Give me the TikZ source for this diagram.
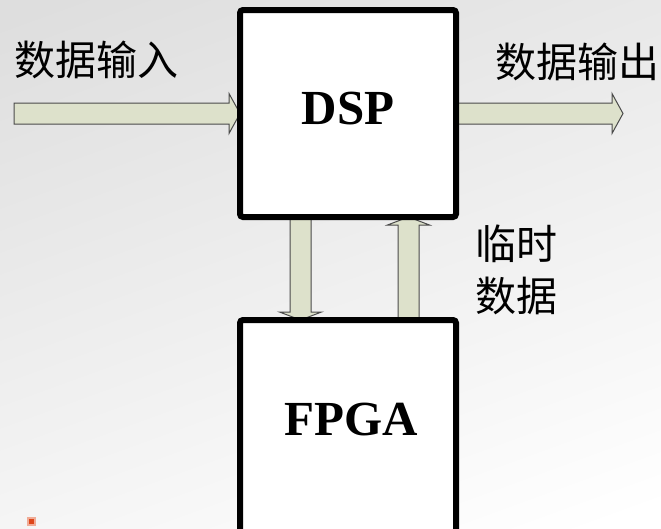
\documentclass[tikz,border=0pt]{standalone}
\usepackage{fontspec}
\setmainfont{Liberation Serif}
\newfontfamily\cjk{Noto Sans CJK SC}
\usetikzlibrary{calc}
\definecolor{arrowfill}{HTML}{DDE1CB}
\definecolor{arrowline}{HTML}{4A4A4A}
\definecolor{bgtop}{HTML}{DEDEDE}
\definecolor{dotred}{RGB}{222,70,25}
\tikzset{
  blockbox/.style={draw=black, fill=white, line width=6pt, rounded corners=3pt,
    inner sep=0pt, outer sep=0pt},
  boxtext/.style={font=\fontsize{49}{55}\selectfont\bfseries, inner sep=0pt},
  cn/.style={font=\cjk\fontsize{41}{48}\selectfont, inner sep=0pt},
  barrow/.style={draw=arrowline, fill=arrowfill, line width=1pt, line join=miter},
}
% horizontal block arrow: #1 start, #2 tip, #3 head length
\newcommand\hblockarrow[3]{%
  \path[barrow] let \p1=(#1), \p2=(#2) in
    (\x1,\y1+10.5pt) -- (\x2-#3,\y1+10.5pt) -- (\x2-#3,\y1+20pt) -- (\x2,\y1)
    -- (\x2-#3,\y1-20pt) -- (\x2-#3,\y1-10.5pt) -- (\x1,\y1-10.5pt) -- cycle;}
% vertical block arrow: #1 start, #2 tip, #3 signed head length (page units)
\newcommand\vblockarrow[3]{%
  \path[barrow] let \p1=(#1), \p2=(#2) in
    (\x1-10.5pt,\y1) -- (\x1-10.5pt,\y2+#3) -- (\x1-21pt,\y2+#3) -- (\x1,\y2)
    -- (\x1+21pt,\y2+#3) -- (\x1+10.5pt,\y2+#3) -- (\x1+10.5pt,\y1) -- cycle;}
\begin{document}
\begin{tikzpicture}[x=1pt,y=-1pt]
  \useasboundingbox (0,0) rectangle (661,528);
  \clip (0,0) rectangle (661,528);
  \shade[top color=bgtop, bottom color=white, shading angle=20]
    (-60,-60) rectangle (721,588);

  % boxes (positions only; drawn after arrows)
  \path (348,113.5) node[blockbox, draw=none, fill=none,
      minimum width=216, minimum height=207] (dsp) {};
  \path (348,430) node[blockbox, draw=none, fill=none,
      minimum width=216, minimum height=220] (fpga) {};

  \coordinate (in) at (14,113.5);
  \coordinate (out) at (623,113.5);
  \coordinate (dx) at (300.5,0);
  \coordinate (ux) at (408.5,0);

  % arrows
  \hblockarrow{in}{dsp.west}{11pt}
  \hblockarrow{dsp.east}{out}{11pt}
  \vblockarrow{dsp.south -| dx}{fpga.north -| dx}{8pt}
  \vblockarrow{fpga.north -| ux}{dsp.south -| ux}{-8pt}

  % boxes drawn on top
  \draw[blockbox] (dsp.north west) rectangle (dsp.south east);
  \draw[blockbox] (fpga.north west) rectangle (fpga.south east);

  \node[boxtext] (dsplabel) at (348,109) {DSP};
  \node[boxtext] (fpgalabel) at (351,420) {FPGA};

  % labels
  \node[cn, anchor=base west] (inlabel) at (14,75) {数据输入};
  \node[cn, anchor=base west] (outlabel) at (495,77) {数据输出};
  \node[cn, anchor=base west] (tmp1) at (475,259) {临时};
  \node[cn, anchor=base west] (tmp2) at (475,311) {数据};

  % small marker
  \fill[dotred!45] (26.5,516.5) rectangle (35.5,525.5);
  \fill[dotred] (28.5,518.5) rectangle (33.5,523.5);
\end{tikzpicture}
\end{document}
